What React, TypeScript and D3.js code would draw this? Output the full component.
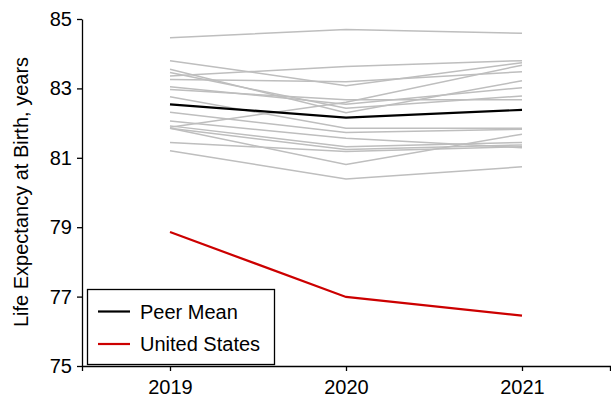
import React, { useEffect, useRef } from "react";
import * as d3 from "d3";

// Years on the x axis
const years = [2019, 2020, 2021];
const yTicks = [75, 77, 79, 81, 83, 85];

// Life expectancy at birth for each peer country, 2019–2021
const peerCountries: number[][] = [
  [84.46, 84.7, 84.59],
  [83.8, 83.08, 83.74],
  [83.55, 82.3, 83.22],
  [83.46, 82.43, 82.78],
  [83.36, 83.63, 83.8],
  [83.26, 83.19, 83.48],
  [83.05, 82.54, 83.02],
  [82.97, 82.67, 82.67],
  [82.76, 81.85, 81.85],
  [82.31, 81.73, 81.82],
  [82.06, 81.56, 81.29],
  [81.92, 81.32, 81.44],
  [81.88, 82.6, 83.67],
  [81.85, 81.24, 81.37],
  [81.85, 80.81, 81.68],
  [81.44, 81.18, 81.32],
  [81.2, 80.39, 80.74],
];
const peerMean = [82.54, 82.16, 82.38];
const unitedStates = [78.86, 76.99, 76.45];

const legendItems = [
  { label: "Peer Mean", color: "#000000" },
  { label: "United States", color: "#cc0000" },
];

const W = 611;
const H = 398;
const FONT = "Liberation Sans, Arial, sans-serif";

export default function App() {
  const ref = useRef<SVGSVGElement>(null);

  useEffect(() => {
    const svg = d3.select(ref.current);
    svg.selectAll("*").remove();

    const x = d3.scaleLinear().domain([2018.5, 2021.5]).range([82, 610]);
    const y = d3.scaleLinear().domain([75, 85]).range([366, 19]);

    const line = d3
      .line<number>()
      .x((_, i) => x(years[i]))
      .y((d) => y(d));

    const lines = svg.append("g");
    peerCountries.forEach((series) => {
      lines
        .append("path")
        .attr("d", line(series))
        .attr("fill", "none")
        .attr("stroke", "#bebebe")
        .attr("stroke-width", 1.5);
    });
    lines
      .append("path")
      .attr("d", line(peerMean))
      .attr("fill", "none")
      .attr("stroke", "#000")
      .attr("stroke-width", 2.2);
    lines
      .append("path")
      .attr("d", line(unitedStates))
      .attr("fill", "none")
      .attr("stroke", "#cc0000")
      .attr("stroke-width", 2.2);

    // Axes
    const xAxis = svg
      .append("g")
      .attr("transform", `translate(0,366)`)
      .call(
        d3
          .axisBottom(x)
          .tickValues(years)
          .tickFormat(d3.format("d"))
          .tickSize(5)
          .tickSizeOuter(5)
          .tickPadding(9)
      );
    const yAxis = svg
      .append("g")
      .attr("transform", `translate(82,0)`)
      .call(d3.axisLeft(y).tickValues(yTicks).tickSize(5).tickSizeOuter(0).tickPadding(5));

    [xAxis, yAxis].forEach((g) => {
      g.selectAll("path, line").attr("stroke", "#000").attr("stroke-width", 1.3);
      g.selectAll("text")
        .attr("font-family", FONT)
        .attr("font-size", 20)
        .attr("fill", "#000");
    });

    svg
      .append("text")
      .attr("transform", `translate(28,192) rotate(-90)`)
      .attr("text-anchor", "middle")
      .attr("font-family", FONT)
      .attr("font-size", 20)
      .text("Life Expectancy at Birth, years");

    // Legend
    const lg = svg.append("g");
    lg.append("rect")
      .attr("x", 87.5)
      .attr("y", 289.5)
      .attr("width", 187)
      .attr("height", 75)
      .attr("fill", "#fff")
      .attr("stroke", "#000")
      .attr("stroke-width", 1.3);
    legendItems.forEach((item, i) => {
      const cy = 311.5 + i * 32.5;
      lg.append("line")
        .attr("x1", 98)
        .attr("x2", 130)
        .attr("y1", cy)
        .attr("y2", cy)
        .attr("stroke", item.color)
        .attr("stroke-width", 2.2);
      lg.append("text")
        .attr("x", 140)
        .attr("y", cy)
        .attr("dy", "0.35em")
        .attr("font-family", FONT)
        .attr("font-size", 20)
        .text(item.label);
    });
  }, []);

  return (
    <svg
      ref={ref}
      width={W}
      height={H}
      style={{ position: "absolute", left: 0, top: 0, background: "#fff" }}
    />
  );
}
